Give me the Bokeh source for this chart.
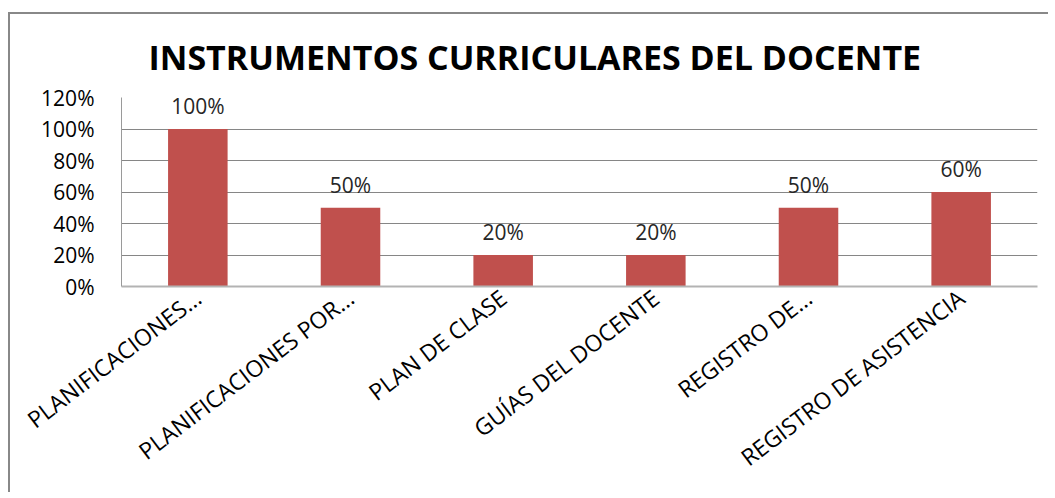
from bokeh.plotting import figure
from bokeh.models import (ColumnDataSource, LabelSet, FixedTicker, PrintfTickFormatter, Range1d)
from bokeh.core.properties import value
from bokeh.embed import file_html
from bokeh.resources import INLINE

# ---- data ----
categories = ["PLANIFICACIONES…", "PLANIFICACIONES POR…", "PLAN DE CLASE",
              "GUÍAS DEL DOCENTE", "REGISTRO DE…", "REGISTRO DE ASISTENCIA"]
values = [100, 50, 20, 20, 50, 60]
y_ticks = [0, 20, 40, 60, 80, 100, 120]
title_text = "INSTRUMENTOS CURRICULARES DEL DOCENTE"

labels = [f"{v}%" for v in values]
src = ColumnDataSource(dict(cat=categories, val=values, lab=labels))

FONT = "Open Sans"
p = figure(x_range=categories, y_range=Range1d(0, 120), width=1040, height=480,
           output_backend="svg", toolbar_location=None,
           min_border_left=111, min_border_right=13, min_border_top=83, min_border_bottom=208)
p.styles = {"border-left": "2px solid #888888", "border-top": "2px solid #888888",
            "margin-left": "8px", "margin-top": "12px"}

p.vbar(x="cat", top="val", width=0.39, source=src, fill_color="#C0504D", line_color=None)

p.add_layout(LabelSet(x="cat", y="val", text="lab", source=src, text_align="center",
                      text_baseline="middle", y_offset=23, text_font=value(FONT),
                      text_font_size=value("21px"), text_color="#262626"))

p.title.text = title_text
p.title.align = "left"
p.title.offset = 27
p.title.text_font = FONT
p.title.text_font_style = "bold"
p.title.text_font_size = "34px"
p.title.text_color = "#000000"
p.title.standoff = 35

p.outline_line_color = None
p.xgrid.grid_line_color = None
p.ygrid.grid_line_color = "#868686"
p.ygrid.grid_line_width = 1

p.yaxis.ticker = FixedTicker(ticks=y_ticks)
p.yaxis.formatter = PrintfTickFormatter(format="%d%%")
p.yaxis.axis_line_color = "#9a9a9a"
p.yaxis.major_tick_line_color = None
p.yaxis.minor_tick_line_color = None
p.yaxis.major_label_text_font = FONT
p.yaxis.major_label_text_font_size = "21px"
p.yaxis.major_label_text_color = "#000000"
p.yaxis.major_label_standoff = 21

p.xaxis.axis_line_color = "#b3b3b3"
p.xaxis.axis_line_width = 2
p.xaxis.major_tick_line_color = None
p.xaxis.major_label_orientation = 0.65
p.xaxis.major_label_text_font = FONT
p.xaxis.major_label_text_font_size = "23px"
p.xaxis.major_label_text_color = "#000000"
p.xaxis.major_label_standoff = 2

open("out.html", "w").write(file_html(p, INLINE))
